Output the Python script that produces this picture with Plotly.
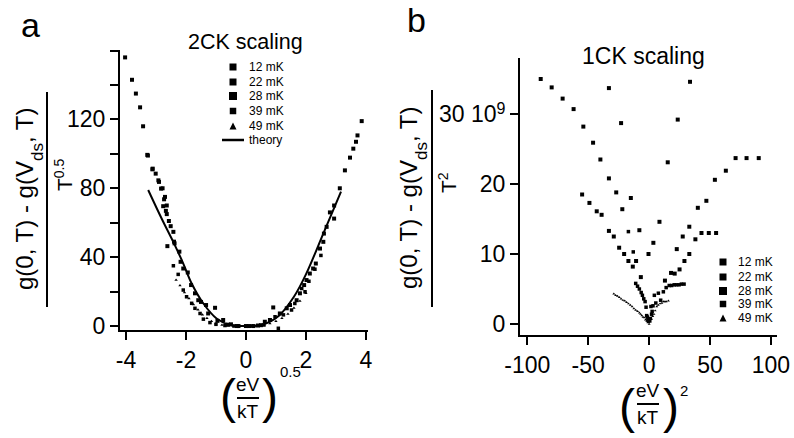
import plotly.graph_objects as go

W, H = 794, 438
def px(x): return x / W
def py(y): return 1 - y / H

FONT = "Liberation Sans, Arial, Helvetica, sans-serif"

# ---------------- Panel a: 2CK scaling ----------------
temps = ["12 mK", "22 mK", "28 mK", "39 mK", "49 mK"]

a_x_12 = [-4.03, -3.8, -3.67, -3.53, -3.43, -3.27, -3.11, -2.92, -2.78, -2.70, -2.64,
          2.80, 2.94, 3.13, 3.3, 3.47, 3.58, 3.67, 3.72, 3.86]
a_y_12 = [156, 143, 135, 127, 116, 99, 91.4, 84.6, 80, 75, 70,
          66, 70, 80, 90.4, 97.8, 103, 107, 110.7, 119]

a_x_22 = [-3.29, -3.12, -3.01, -2.9, -2.83, -2.73, -2.67, -2.57, -2.42, -2.22, -2.09, -1.83,
          -1.59, -1.33, -1.03, -0.76, -0.5, -0.25, 0, 0.25, 0.5, 0.63, 0.91, 1.36, 1.69,
          1.94, 2.13, 2.33, 2.58, 2.69]
a_y_22 = [99.4, 91, 88.5, 83.7, 79.8, 73.6, 66.9, 61, 54.7, 43.2, 33.4, 23.8,
          15, 12.2, 10.6, 3.5, 1, 0, 0, 0, 0.5, 2.5, 10.8, 10.3, 15,
          23.8, 30.5, 36.3, 48.9, 57.6]

a_x_28 = [-2.76, -2.64, -2.51, -2.4, -2.62, -2.38, -2.18, -1.94, -1.7, -1.5, -1.26, -0.95,
          -0.6, -0.3, 0.1, 0.4, 0.8, 1.13, 1.47, 1.8, 2.02, 2.24, 2.47, 2.6, 2.94]
a_y_28 = [69.6, 65, 58, 49, 46.4, 48, 37.3, 31.1, 19, 14, 7.3, 3,
          0.8, 0, 0, 0.3, 3.5, 7.3, 12.2, 19, 26.7, 33.4, 45, 53.7, 62.4]

a_x_39 = [-2.42, -2.26, -2.09, -1.98, -1.81, -1.7, -1.53, -1.42, -1.2, -1.0, -0.7, -0.4,
          0.2, 0.6, 0.97, 1.08, 1.25, 1.52, 1.63, 1.86, 1.97, 2.1, 2.3, 2.5]
a_y_39 = [35, 30, 20.9, 17, 13.2, 10.3, 7.3, 4, 2, 1, 0.3, 0,
          0, 0.6, 5.4, -1.3, 6.5, 9.3, 13.1, 21.8, 19.9, 26, 33, 41]

a_x_49 = [-2.33, -2.2, -2.05, -1.9, -1.75, -1.6, -1.45, -1.3, -1.15, -1.0, -0.8, -0.6, -0.4,
          -0.2, 0, 0.2, 0.4, 0.6, 0.8, 1.0, 1.2, 1.4, 1.6, 1.8, 2.0]
a_y_49 = [26.7, 23.5, 19.5, 16, 12.5, 9.5, 6.5, 4.5, 2.8, 1.5, 0.6, 0.2, 0,
          0, 0, 0, 0.1, 0.5, 1.5, 2.8, 4.5, 7, 10.5, 14.5, 19]

theory_x = [-3.26, -2.8, -2.4, -2.09, -1.81, -1.42, -0.98, -0.53, 0, 0.52, 1.1, 1.6, 2.0, 2.6, 3.17]
theory_y = [79, 62, 48, 36.3, 24.7, 13.1, 4.4, 0.6, 0, 0.6, 6, 17, 30, 54.6, 78]

a_ticks = [-4, -2, 0, 2, 4]
a_yticks = [0, 40, 80, 120]
a_yminor = [20, 60, 100, 140, 160]

# ---------------- Panel b: 1CK scaling ----------------
b_x_12 = [-33, -23, -15, -8, -0.5, 3.5, 8.5, 15.3, 23.5, 33.6]
b_y_12 = [33.7, 28.7, 18, 13.4, 10, 11.6, 14.6, 23.1, 29.2, 34.6]

b_x_22 = [-89, -80, -71, -62, -54, -46, -40, -33, -27, -22,
          22.7, 27.6, 33, 40, 47, 54, 63, 71, 80, 90]
b_y_22 = [35, 33.8, 32.2, 30.7, 28.2, 25.9, 23.5, 20.8, 18.8, 16.4,
          10.7, 12.5, 13.9, 16.6, 17.6, 20.6, 21.9, 23.7, 23.7, 23.7]

b_x_28 = [-55, -49, -43, -39, -33, -29, -24.6, -20.5, -17, -13.4, -10.7, -6.8,
          13, 18, 21, 25, 29, 33, 38, 43, 49, 55]
b_y_28 = [18.5, 17.3, 16.1, 15.6, 13.3, 12.5, 10.9, 10, 9, 8.2, 9, 6.7,
          6.2, 7.3, 7.2, 7.8, 9, 10, 12.1, 13, 13, 13]

b_x_39 = [-17, -13, -11, -9.5, -8, -6.5, -5.5, -4.4, -3.3, -2.5, -2, -1.5, -1, -0.5, 0.5, 1,
          1.5, 2, 2.5, 3.2, 4.3, 5.5, 7.6, 9.5, 11.7, 14, 16.5, 18.5, 20.6, 22.5, 24.6, 26.5, 28.7]
b_y_39 = [13.2, 10.3, 5.8, 5.4, 5, 4.5, 4.1, 3.6, 3.2, 2.4, 1.2, 1.0, 0.6, 0.4, 0.5, 0.8,
          2.5, 1.4, 1.8, 2.6, 4.1, 3.0, 4.4, 3.4, 4.6, 5.2, 5.5, 5.5, 5.6, 5.6, 5.6, 5.7, 5.7]

b_x_49 = [-29, -27.5, -26, -24.5, -23, -21.5, -20, -18.5, -17, -15.5, -14, -12.5, -11, -9.5,
          -8, -7, -6, -5, -4, -3, -2, -1, 0, 1, 2, 3, 4, 5, 6.3, 7.5, 9, 10.5, 11.7, 13, 14, 15.8]
b_y_49 = [4.3, 4.1, 4.0, 3.8, 3.6, 3.4, 3.3, 3.1, 2.9, 2.7, 2.5, 2.2, 2.0, 1.8,
          1.6, 1.4, 1.2, 1.0, 0.9, 0.6, 0.4, 0.2, 0, 0.3, 0.7, 1.1, 1.4, 1.9, 2.5, 2.7, 2.9, 3.0, 3.2, 3.2, 3.2, 3.3]

b_ticks = [-100, -50, 0, 50, 100]
b_yticks = [0, 10, 20, 30]
b_yticktext = ["0", "10", "20",
               "30 10<span style='baseline-shift:super;font-size:16px'>9</span>"]

# ---------------- figure ----------------
fig = go.Figure()

a_series = [(a_x_12, a_y_12), (a_x_22, a_y_22), (a_x_28, a_y_28), (a_x_39, a_y_39), (a_x_49, a_y_49)]
b_series = [(b_x_12, b_y_12), (b_x_22, b_y_22), (b_x_28, b_y_28), (b_x_39, b_y_39), (b_x_49, b_y_49)]
symbols = ["square", "square", "square", "square", "triangle-up"]
sizes_a = [4, 4, 4, 3.5, 3]
sizes_b = [4, 4, 4, 3.5, 2.6]

for (xs, ys), name, sym, s in zip(a_series, temps, symbols, sizes_a):
    fig.add_trace(go.Scatter(x=xs, y=ys, mode="markers", name=name, showlegend=False,
                             marker=dict(symbol=sym, size=s, color="black", line=dict(width=0)),
                             xaxis="x", yaxis="y"))
fig.add_trace(go.Scatter(x=theory_x, y=theory_y, mode="lines", name="theory", showlegend=False,
                         line=dict(color="black", width=2, shape="spline"), xaxis="x", yaxis="y"))
for (xs, ys), name, sym, s in zip(b_series, temps, symbols, sizes_b):
    fig.add_trace(go.Scatter(x=xs, y=ys, mode="markers", name=name, showlegend=False,
                             marker=dict(symbol=sym, size=s, color="black", line=dict(width=0)),
                             xaxis="x2", yaxis="y2"))

axis_common = dict(showline=True, linecolor="black", linewidth=2, ticks="outside",
                   ticklen=8, tickwidth=2, tickcolor="black", showgrid=False, zeroline=False,
                   automargin=False,
                   tickfont=dict(family=FONT, size=23, color="black"), tickmode="array")

fig.update_layout(
    width=W, height=H, margin=dict(l=0, r=0, t=0, b=0, autoexpand=False),
    paper_bgcolor="white", plot_bgcolor="white",
    xaxis=dict(domain=[px(120), px(368)], range=[-4.2, 4.07], anchor="y",
               tickvals=a_ticks, ticktext=[str(v) for v in a_ticks], **axis_common),
    yaxis=dict(domain=[py(330), py(50)], range=[-2.3, 160.3], anchor="x",
               tickvals=a_yticks, ticktext=[str(v) for v in a_yticks],
               minor=dict(tickmode="array", tickvals=a_yminor, ticks="outside", ticklen=8,
                          tickwidth=2, tickcolor="black"),
               **axis_common),
    xaxis2=dict(domain=[px(520), px(777)], range=[-106, 105], anchor="y2",
                tickvals=b_ticks, ticktext=[str(v) for v in b_ticks], **axis_common),
    yaxis2=dict(domain=[py(335), py(58)], range=[-1.57, 38], anchor="x2",
                tickvals=b_yticks, ticktext=b_yticktext, **axis_common),
)

ann = []
shapes = []

def text(x, y, t, size, angle=0, xanchor="center", yanchor="middle"):
    ann.append(dict(x=px(x), y=py(y), xref="paper", yref="paper", text=t, showarrow=False,
                    font=dict(family=FONT, size=size, color="black"), textangle=angle,
                    xanchor=xanchor, yanchor=yanchor))

def line(x0, y0, x1, y1, w=2):
    shapes.append(dict(type="line", xref="paper", yref="paper", x0=px(x0), y0=py(y0),
                       x1=px(x1), y1=py(y1), line=dict(color="black", width=w)))

SUB = "<span style='baseline-shift:sub;font-size:17px'>ds</span>"
NUM = "g(0, T) - g(V" + SUB + ", T)"

# panel letters and titles
text(30, 25, "a", 34)
text(245, 42, "2CK scaling", 21.5)
text(416, 20, "b", 34)
text(643, 56, "1CK scaling", 23)

# y-axis titles (fractions)
text(29, 199, NUM, 24, angle=-90)
line(47, 92, 47, 307)
text(63, 175, "T<span style='baseline-shift:super;font-size:14px'>0.5</span>", 21, angle=-90)

text(413, 198, NUM, 24, angle=-90)
line(432, 90, 432, 307)
text(447, 183, "T<span style='baseline-shift:super;font-size:14px'>2</span>", 21, angle=-90)

# x-axis titles
def xtitle(cx, cy_bar, sup, supx, supy, lp, rp, paren_y):
    text(cx, cy_bar - 14, "eV", 19)
    line(cx - 11, cy_bar, cx + 11, cy_bar)
    text(cx, cy_bar + 13, "kT", 19)
    text(lp, paren_y, "(", 48)
    text(rp, paren_y, ")", 48)
    text(supx, supy, sup, 15)

xtitle(248, 398, "0.5", 290, 371, 228, 270, 396)
xtitle(648, 404, "2", 684, 390, 627, 671, 406)

# legends (manual)
def square(cx, cy, s):
    shapes.append(dict(type="rect", xref="paper", yref="paper", x0=px(cx - s / 2), x1=px(cx + s / 2),
                       y0=py(cy + s / 2), y1=py(cy - s / 2), fillcolor="black", line=dict(width=0)))

def triangle(cx, cy, s):
    p = "M {} {} L {} {} L {} {} Z".format(px(cx - s / 2), py(cy + s / 2), px(cx + s / 2), py(cy + s / 2),
                                          px(cx), py(cy - s / 2))
    shapes.append(dict(type="path", xref="paper", yref="paper", path=p, fillcolor="black",
                       line=dict(width=0)))

leg_sizes = [7, 7, 8, 6.5, 7]
a_rows = [67, 82, 96, 111, 126]
for t, r, s, sym in zip(temps, a_rows, leg_sizes, symbols):
    if sym == "square":
        square(233, r, s)
    else:
        triangle(233, r, s)
    text(247, r, t, 12, xanchor="left")
line(222, 140, 244, 140, 2.5)
text(247, 140, "theory", 12, xanchor="left")

b_rows = [262, 277, 291, 304, 318]
for t, r, s, sym in zip(temps, b_rows, leg_sizes, symbols):
    if sym == "square":
        square(723, r, s)
    else:
        triangle(723, r, s)
    text(736, r, t, 12, xanchor="left")

fig.update_layout(annotations=ann, shapes=shapes)
fig.write_html("out.html")
